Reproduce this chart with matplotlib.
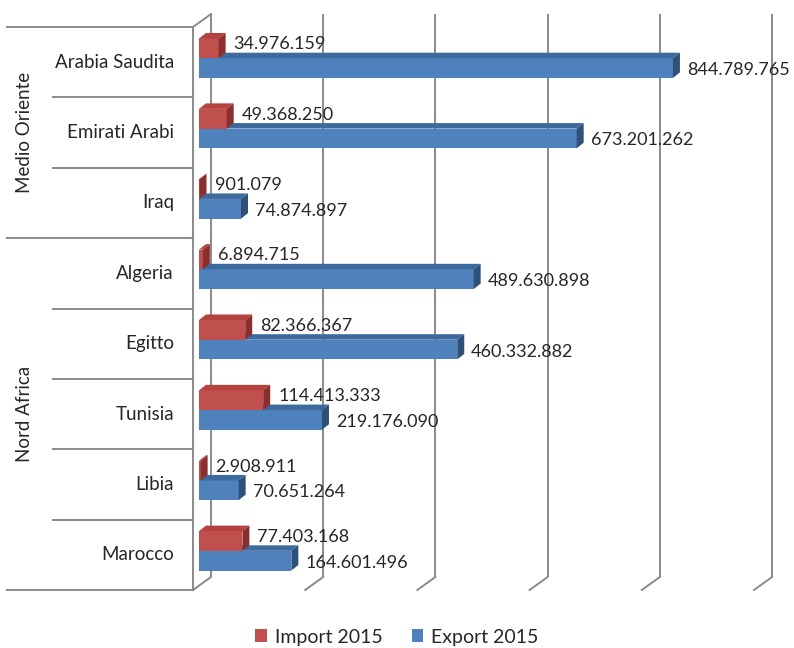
import matplotlib
matplotlib.use("Agg")
import matplotlib.pyplot as plt
from matplotlib.patches import Polygon, Patch
import numpy as np

# ---------------- data ----------------
categories = ["Arabia Saudita", "Emirati Arabi", "Iraq", "Algeria",
              "Egitto", "Tunisia", "Libia", "Marocco"]
groups = ["Medio Oriente", "Nord Africa"]
group_sizes = [3, 5]
import_2015 = [34976159, 49368250, 901079, 6894715,
               82366367, 114413333, 2908911, 77403168]
export_2015 = [844789765, 673201262, 74874897, 489630898,
               460332882, 219176090, 70651264, 164601496]
series_names = ["Import 2015", "Export 2015"]
x_ticks = [0, 200e6, 400e6, 600e6, 800e6, 1000e6]

# ---------------- style ----------------
plt.rcParams['font.family'] = ['Lato', 'DejaVu Sans']
FS = 13
FS_CAT = 13.5
FS_LEG = 14
TXT = '#262626'
GRID = '#8a8a8a'
RED = ('#C0504D', '#B5423F', '#8A2F2D')     # front, top, side
BLUE = ('#4F81BD', '#3D6A9E', '#2E5079')

W, H = 794, 648
fig = plt.figure(figsize=(W / 100, H / 100), dpi=100)
L, R, T, B = 199, 760, 23, 586   # bar plane in image pixels
ax = fig.add_axes([L / W, 1 - B / H, (R - L) / W, (B - T) / H])
XMAX = x_ticks[-1]
n = len(categories)
ax.set_xlim(0, XMAX)
ax.set_ylim(-0.5, n - 0.5)
ax.axis('off')

px_x = XMAX / (R - L)
px_y = n / (B - T)
def DX(p):
    return p * px_x
def DY(p):
    return p * px_y

FX, FY = DX(-6), DY(-4)      # front plane offset
BX, BY = DX(12), DY(9)       # back wall offset
bdx, bdy = DX(7), DY(5.5)    # bar depth

ypos = np.arange(n)[::-1]
bh = 0.28
off = 0.14

# walls / gridlines
lw = 1.4
for t in x_ticks:
    ax.plot([t + BX, t + BX], [-0.5 + BY, n - 0.5 + BY], color=GRID, lw=lw,
            clip_on=False, zorder=0.5, solid_capstyle='butt')
    ax.plot([t + BX, t + FX], [-0.5 + BY, -0.5 + FY], color=GRID, lw=lw,
            clip_on=False, zorder=0.5)
ax.plot([FX, FX], [-0.5 + FY, n - 0.5 + FY], color=GRID, lw=lw, clip_on=False, zorder=0.5)
ax.plot([FX, BX], [n - 0.5 + FY, n - 0.5 + BY], color=GRID, lw=lw, clip_on=False, zorder=0.5)

# row separators and labels
long_bounds = {-0.5, n - 0.5}
acc = n
for s in group_sizes:
    acc -= s
    long_bounds.add(acc - 0.5)
for b in np.arange(-0.5, n, 1.0):
    x0 = DX(7 - L) if b in long_bounds else DX(53 - L)
    ax.plot([x0, FX], [b + FY, b + FY], color=GRID, lw=lw, clip_on=False, zorder=0.5)

for c, y in zip(categories, ypos):
    ax.text(DX(174 - L), y + FY, c, ha='right', va='center', fontsize=FS_CAT,
            color=TXT, clip_on=False)

top = n - 0.5
for g, s in zip(groups, group_sizes):
    yc = top - s / 2
    ax.text(DX(25 - L), yc + FY, g, ha='center', va='center', rotation=90,
            fontsize=FS_CAT, color=TXT, clip_on=False)
    top -= s

# bars
def bar3d(y, v, cols, z):
    ax.barh(y, v, height=bh, color=cols[0], linewidth=0, zorder=z)
    yt, yb = y + bh / 2, y - bh / 2
    ax.add_patch(Polygon([(0, yt), (v, yt), (v + bdx, yt + bdy), (bdx, yt + bdy)],
                         closed=True, facecolor=cols[1], lw=0, zorder=z))
    ax.add_patch(Polygon([(v, yb), (v, yt), (v + bdx, yt + bdy), (v + bdx, yb + bdy)],
                         closed=True, facecolor=cols[2], lw=0, zorder=z))

def fmt(v):
    return f"{v:,}".replace(",", ".")

for y, iv, ev in zip(ypos, import_2015, export_2015):
    bar3d(y - off, ev, BLUE, 2)
    bar3d(y + off, iv, RED, 3)
    ax.annotate(fmt(iv), (iv, y + off), xytext=(15, 4), textcoords='offset pixels',
                ha='left', va='center', fontsize=FS, color=TXT, zorder=5)
    ax.annotate(fmt(ev), (ev, y - off), xytext=(14, -2), textcoords='offset pixels',
                ha='left', va='center', fontsize=FS, color=TXT, zorder=5)

handles = [Patch(facecolor=RED[0], label=series_names[0]),
           Patch(facecolor=BLUE[0], label=series_names[1])]
fig.legend(handles=handles, loc='center', bbox_to_anchor=(0.5, 1 - 637 / H),
           ncol=2, frameon=False, fontsize=FS_LEG, handlelength=0.6, handleheight=0.6,
           handletextpad=0.4, columnspacing=1.5, labelcolor=TXT)

fig.savefig("out.png", dpi=100)
